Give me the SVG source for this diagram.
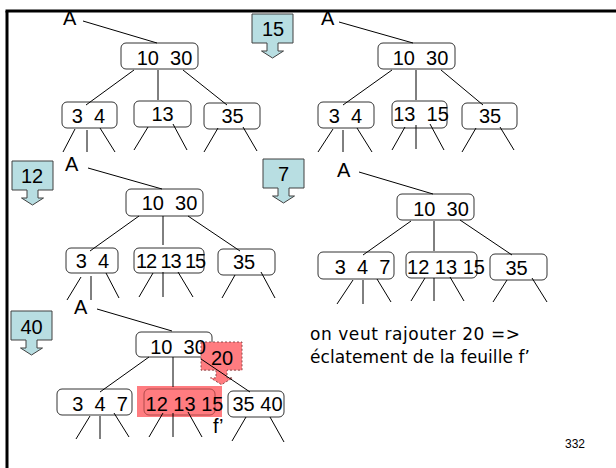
<svg xmlns="http://www.w3.org/2000/svg" width="616" height="468" viewBox="0 0 616 468">
<style>
.n{fill:none;stroke:#333;stroke-width:1}
.t{font-family:"Liberation Sans",Arial,sans-serif;font-size:20px;fill:#000;text-anchor:middle}
.a{font-family:"Liberation Sans",Arial,sans-serif;font-size:20px;fill:#000}
.c line{stroke:#000;stroke-width:1}
.co{fill:#b8dee2;stroke:#404040;stroke-width:1}
.cr{fill:#ff7c80;stroke:#8a4a4a;stroke-width:1;stroke-dasharray:2 2}
.note{font-family:"DejaVu Sans",Verdana,sans-serif;font-size:17px;fill:#000}
</style>
<defs>
<path id="callout" d="M0,0 H41 V29 H26 V37 H31.5 L20.5,44 L9.5,37 H15 V29 H0 Z"/>
</defs>
<rect width="616" height="468" fill="#fff"/>
<g id="frame" stroke="#000" stroke-width="3" fill="none">
<line x1="5.5" y1="11" x2="616" y2="11"/>
<line x1="7" y1="11" x2="7" y2="468"/>
</g>

<g id="callout-15"><use href="#callout" x="252" y="14" class="co"/><text class="t" x="273" y="36">15</text></g>
<g id="callout-12"><use href="#callout" x="12" y="161" class="co"/><text class="t" x="32" y="183">12</text></g>
<g id="callout-7"><use href="#callout" x="263" y="159" class="co"/><text class="t" x="283.5" y="181">7</text></g>
<g id="callout-40"><use href="#callout" x="11" y="311" class="co"/><text class="t" x="31.5" y="334">40</text></g>

<!-- tree 1 -->
<g id="t1-A"><text class="a" x="63" y="25">A</text></g>
<g id="t1-root"><rect class="n" x="121" y="43" width="77" height="26" rx="5"/><text class="t" x="164.5" y="65" xml:space="preserve">10  30</text></g>
<g id="t1-c1"><rect class="n" x="62" y="102" width="55" height="26" rx="5"/><text class="t" x="88.5" y="123" xml:space="preserve">3  4</text></g>
<g id="t1-c2"><rect class="n" x="134" y="101" width="57" height="26" rx="5"/><text class="t" x="162.5" y="121">13</text></g>
<g id="t1-c3"><rect class="n" x="204" y="103" width="56" height="26" rx="5"/><text class="t" x="232.5" y="123">35</text></g>

<!-- tree 2 -->
<g id="t2-A"><text class="a" x="321" y="25">A</text></g>
<g id="t2-root"><rect class="n" x="378" y="43" width="77" height="26" rx="5"/><text class="t" x="420.5" y="65" xml:space="preserve">10  30</text></g>
<g id="t2-c1"><rect class="n" x="318" y="102" width="56" height="26" rx="5"/><text class="t" x="345.5" y="123" xml:space="preserve">3  4</text></g>
<g id="t2-c2"><rect class="n" x="392" y="101" width="55" height="27" rx="5"/><text class="t" x="421" y="121" xml:space="preserve">13  15</text></g>
<g id="t2-c3"><rect class="n" x="462" y="103" width="55" height="26" rx="5"/><text class="t" x="490" y="123">35</text></g>

<!-- tree 3 -->
<g id="t3-A"><text class="a" x="65" y="171">A</text></g>
<g id="t3-root"><rect class="n" x="126" y="189" width="77" height="27" rx="5"/><text class="t" x="169.5" y="210" xml:space="preserve">10  30</text></g>
<g id="t3-c1"><rect class="n" x="66" y="248" width="52" height="25" rx="5"/><text class="t" x="92.5" y="268" xml:space="preserve">3  4</text></g>
<g id="t3-c2"><rect class="n" x="134" y="248" width="70" height="25" rx="5"/><text class="t" x="171" y="268" textLength="70">12 13 15</text></g>
<g id="t3-c3"><rect class="n" x="218" y="249" width="57" height="26" rx="5"/><text class="t" x="244" y="269">35</text></g>

<!-- tree 4 -->
<g id="t4-A"><text class="a" x="337" y="177">A</text></g>
<g id="t4-root"><rect class="n" x="397" y="194" width="77" height="26" rx="5"/><text class="t" x="441" y="216" xml:space="preserve">10  30</text></g>
<g id="t4-c1"><rect class="n" x="318" y="252" width="76" height="27" rx="5"/><text class="t" x="362.5" y="274" xml:space="preserve">3  4  7</text></g>
<g id="t4-c2"><rect class="n" x="406" y="252" width="71" height="26" rx="5"/><text class="t" x="446" y="273.5">12 13 15</text></g>
<g id="t4-c3"><rect class="n" x="490" y="254" width="57" height="26" rx="5"/><text class="t" x="516.5" y="275">35</text></g>

<!-- tree 5 -->
<g id="t5-A"><text class="a" x="74" y="314">A</text></g>
<g id="t5-root"><rect class="n" x="136" y="332" width="76" height="25" rx="5"/></g>
<g id="callout-20"><use href="#callout" x="201" y="342" class="cr" transform="translate(201 342) scale(1 0.97) translate(-201 -342)"/><text class="t" x="222" y="365">20</text></g>
<g id="t5-root-text"><text class="t" x="178" y="354" xml:space="preserve">10  30</text></g>
<g id="t5-c1"><rect class="n" x="57" y="389" width="75" height="26" rx="5"/><text class="t" x="100" y="411" xml:space="preserve">3  4  7</text></g>
<g id="t5-c2"><rect x="137" y="386" width="85" height="31" fill="#ff7c80"/><rect x="144" y="389" width="71" height="26" rx="5" fill="none" stroke="#b04a4a" stroke-width="1"/><text class="t" x="184.5" y="411">12 13 15</text></g>
<g id="t5-c3"><rect class="n" x="228" y="391" width="56" height="26" rx="5"/><text class="t" x="257.5" y="411">35 40</text></g>
<g id="label-f"><text class="a" x="213" y="433">f’</text></g>

<g id="connectors" class="c">
<line x1="83" y1="21" x2="157" y2="43"/>
<line x1="134" y1="70" x2="86" y2="105"/>
<line x1="158" y1="70" x2="158" y2="100"/>
<line x1="183" y1="70" x2="227" y2="105"/>
<line x1="75" y1="129" x2="63" y2="152"/>
<line x1="87" y1="130" x2="87" y2="152"/>
<line x1="100" y1="128" x2="115" y2="152"/>
<line x1="148" y1="127" x2="134" y2="150"/>
<line x1="173" y1="124" x2="187" y2="150"/>
<line x1="218" y1="128" x2="204" y2="152"/>
<line x1="243" y1="127" x2="257" y2="151"/>

<line x1="339" y1="22" x2="413" y2="43"/>
<line x1="392" y1="70" x2="343" y2="105"/>
<line x1="416" y1="70" x2="416" y2="100"/>
<line x1="441" y1="70" x2="483" y2="105"/>
<line x1="333" y1="129" x2="318" y2="152"/>
<line x1="343" y1="130" x2="343" y2="152"/>
<line x1="357" y1="128" x2="372" y2="152"/>
<line x1="405" y1="127" x2="392" y2="150"/>
<line x1="416" y1="125" x2="416" y2="149"/>
<line x1="430" y1="124" x2="444" y2="150"/>
<line x1="476" y1="128" x2="462" y2="152"/>
<line x1="500" y1="127" x2="514" y2="150"/>

<line x1="88" y1="168" x2="162" y2="189"/>
<line x1="139" y1="216" x2="90" y2="251"/>
<line x1="163" y1="216" x2="163" y2="245"/>
<line x1="188" y1="216" x2="240" y2="251"/>
<line x1="81" y1="277" x2="67" y2="300"/>
<line x1="91" y1="276" x2="91" y2="300"/>
<line x1="106" y1="273" x2="119" y2="298"/>
<line x1="153" y1="273" x2="139" y2="297"/>
<line x1="163" y1="272" x2="163" y2="297"/>
<line x1="178" y1="272" x2="193" y2="297"/>
<line x1="235" y1="275" x2="222" y2="298"/>
<line x1="261" y1="272" x2="275" y2="298"/>

<line x1="359" y1="172" x2="433" y2="194"/>
<line x1="411" y1="221" x2="363" y2="255"/>
<line x1="434" y1="221" x2="434" y2="251"/>
<line x1="460" y1="220" x2="512" y2="255"/>
<line x1="353" y1="280" x2="337" y2="304"/>
<line x1="363" y1="280" x2="363" y2="304"/>
<line x1="377" y1="279" x2="391" y2="302"/>
<line x1="425" y1="278" x2="411" y2="301"/>
<line x1="434" y1="278" x2="434" y2="301"/>
<line x1="450" y1="277" x2="464" y2="301"/>
<line x1="507" y1="280" x2="493" y2="302"/>
<line x1="532" y1="278" x2="547" y2="302"/>

<line x1="97" y1="309" x2="172" y2="331"/>
<line x1="149" y1="357" x2="100" y2="392"/>
<line x1="173" y1="357" x2="173" y2="387"/>
<line x1="201" y1="359" x2="250" y2="392"/>
<line x1="90" y1="416" x2="76" y2="439"/>
<line x1="100" y1="416" x2="100" y2="439"/>
<line x1="114" y1="413" x2="129" y2="437"/>
<line x1="163" y1="413" x2="149" y2="437"/>
<line x1="173" y1="413" x2="173" y2="437"/>
<line x1="188" y1="412" x2="202" y2="437"/>
<line x1="246" y1="417" x2="232" y2="441"/>
<line x1="270" y1="417" x2="284" y2="442"/>
</g>

<g id="note">
<text class="note" x="310" y="340" textLength="210">on veut rajouter 20 =&gt;</text>
<text class="note" x="310" y="363" textLength="220">éclatement de la feuille f’</text>
</g>
<text x="565" y="448" font-family="'Liberation Sans',Arial,sans-serif" font-size="12" fill="#000">332</text>
</svg>
